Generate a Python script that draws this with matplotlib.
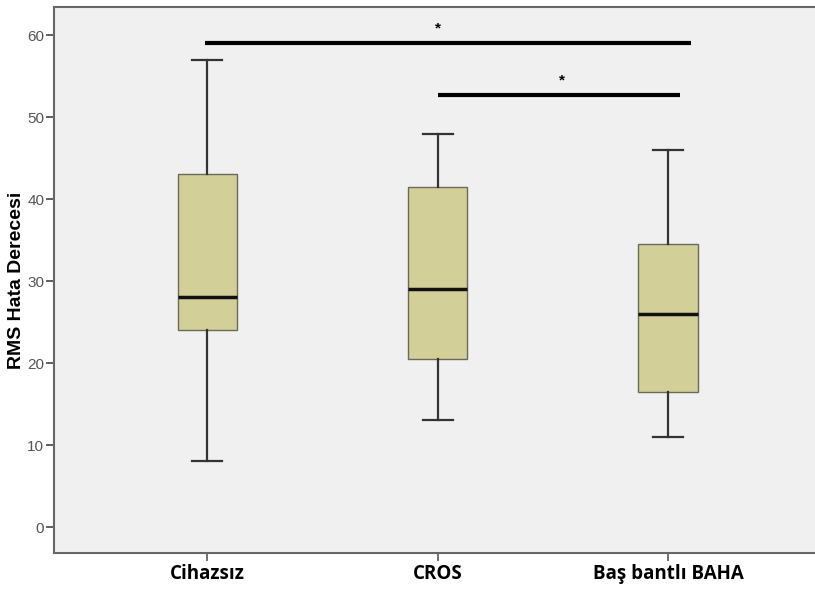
import matplotlib
matplotlib.use("Agg")
import matplotlib.pyplot as plt

plt.rcParams["font.family"] = ["Liberation Sans", "DejaVu Sans"]

categories = ["Cihazsız", "CROS", "Baş bantlı BAHA"]
whislo = [8, 13, 11]
q1 = [24, 20.5, 16.5]
med = [28, 29, 26]
q3 = [43, 41.5, 34.5]
whishi = [57, 48, 46]
yticks = [0, 10, 20, 30, 40, 50, 60]

# significance brackets: (x start, x end, y, star x)
sig_x0 = [0.99, 2.0]
sig_x1 = [3.1, 3.05]
sig_y = [59.0, 52.7]
sig_star_x = [2.0, 2.54]

fig = plt.figure(figsize=(8.15, 5.9), dpi=100)
fig.patch.set_facecolor("white")
ax = fig.add_axes([0.0663, 0.0627, 0.94, 0.925])
ax.set_facecolor("#F0F0F0")

stats = []
for i, c in enumerate(categories):
    stats.append(dict(label=c, whislo=whislo[i], q1=q1[i], med=med[i],
                      q3=q3[i], whishi=whishi[i], fliers=[]))
positions = [1, 2, 3]
ax.bxp(stats, positions=positions, widths=0.257, patch_artist=True,
       showfliers=False,
       boxprops=dict(facecolor="#D3CF98", edgecolor="#6A6A5A", linewidth=1.0),
       medianprops=dict(color="#111111", linewidth=2.5),
       whiskerprops=dict(color="#333333", linewidth=1.6),
       capprops=dict(color="#333333", linewidth=1.6),
       capwidths=0.13)

for x0, x1, y, sx in zip(sig_x0, sig_x1, sig_y, sig_star_x):
    ax.plot([x0, x1], [y, y], color="black", linewidth=3, solid_capstyle="butt")
    ax.text(sx, y + 0.9, "*", ha="center", va="bottom", fontsize=11,
            fontweight="bold", color="black")

ax.set_xlim(0.335, 3.66)
ax.set_ylim(-3.17, 63.4)
ax.set_yticks(yticks)
ax.set_yticklabels([str(v) for v in yticks])
ax.set_xticks(positions)
ax.set_xticklabels(categories, fontsize=13.5, fontweight="bold", color="black",
                   family=["Open Sans", "DejaVu Sans"])
ax.tick_params(axis="y", colors="#555555", labelcolor="#555555", length=6,
               width=1.3, labelsize=11, pad=1)
ax.tick_params(axis="x", colors="#666666", labelcolor="black", length=6,
               width=1.3, pad=2)
for lbl in ax.get_xticklabels():
    lbl.set_color("black")

for side in ["left", "bottom", "top"]:
    ax.spines[side].set_color("#666666")
    ax.spines[side].set_linewidth(1.5)
ax.spines["right"].set_visible(False)

ax.set_ylabel("RMS Hata Derecesi", fontsize=14, fontweight="bold",
              color="black", labelpad=2)

fig.savefig("out.png", dpi=100)
